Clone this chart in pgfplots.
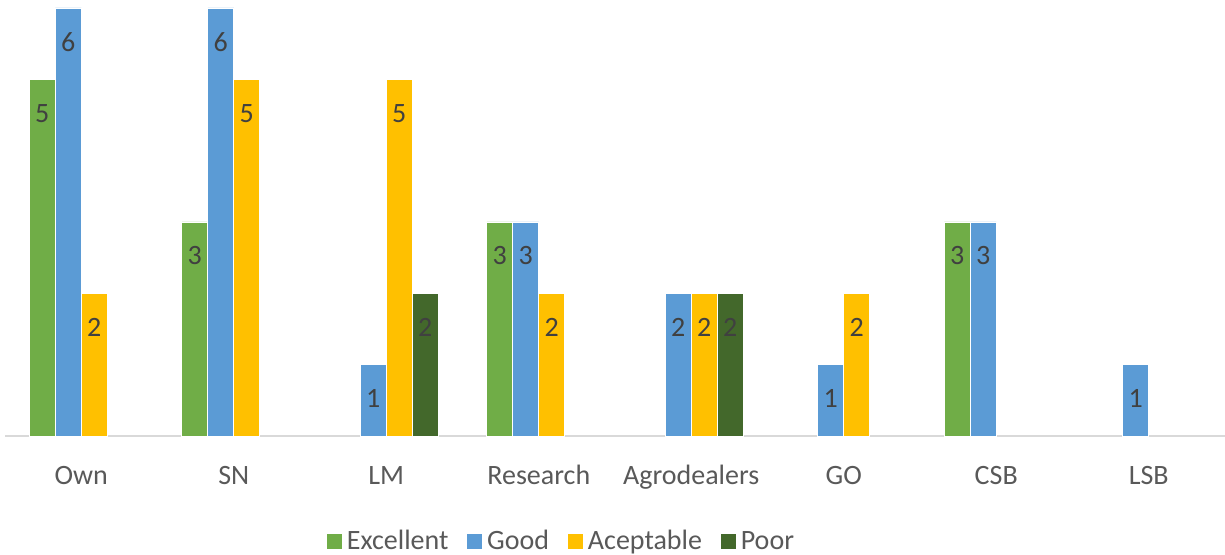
\documentclass[border=0pt]{standalone}
\usepackage{fontspec}
\setmainfont{Carlito}
\usepackage{pgfplots}
\pgfplotsset{compat=1.18}
\definecolor{cExc}{HTML}{70AD47}
\definecolor{cGood}{HTML}{5B9BD5}
\definecolor{cAcc}{HTML}{FFC000}
\definecolor{cPoor}{HTML}{43682B}
\definecolor{lab}{HTML}{404040}
\definecolor{tick}{HTML}{595959}
\definecolor{axl}{HTML}{D9D9D9}
\begin{document}
\begin{tikzpicture}
\useasboundingbox (-2.5pt,-59.5pt) rectangle (610pt,218pt);
\begin{axis}[
  scale only axis,
  width=610pt, height=214pt,
  xmin=-0.5, xmax=7.5,
  ymin=0, ymax=6,
  ybar=0pt, bar width=13pt,
  axis x line=bottom,
  axis y line=none,
  x axis line style={draw=axl, line width=1pt, -},
  xtick={0,1,2,3,4,5,6,7},
  xticklabels={Own,SN,LM,Research,Agrodealers,GO,CSB,LSB},
  xtick style={draw=none},
  xticklabel style={anchor=base, yshift=-22pt, font=\fontsize{14}{16}\selectfont, text=tick},
  /pgf/number format/assume math mode=true,
  nodes near coords,
  every node near coord/.append style={anchor=center, yshift=-17pt, font=\fontsize{14}{16}\selectfont, text=lab},
  clip=false,
  legend style={at={(0.4566,-0.247)}, anchor=center, draw=none, legend columns=-1,
    font=\fontsize{14}{16}\selectfont, text=tick,
    /tikz/every even column/.append style={column sep=7pt}},
  legend image code/.code={\fill[#1] (0pt,-4pt) rectangle (8pt,4pt);},
]
\addplot[fill=cExc, draw=white, line width=0.4pt] coordinates {(0,5) (1,3) (3,3) (6,3)};
\addplot[fill=cGood, draw=white, line width=0.4pt] coordinates {(0,6) (1,6) (2,1) (3,3) (4,2) (5,1) (6,3) (7,1)};
\addplot[fill=cAcc, draw=white, line width=0.4pt] coordinates {(0,2) (1,5) (2,5) (3,2) (4,2) (5,2)};
\addplot[fill=cPoor, draw=white, line width=0.4pt] coordinates {(2,2) (4,2)};
\legend{Excellent,Good,Aceptable,Poor}
\end{axis}
\end{tikzpicture}
\end{document}
